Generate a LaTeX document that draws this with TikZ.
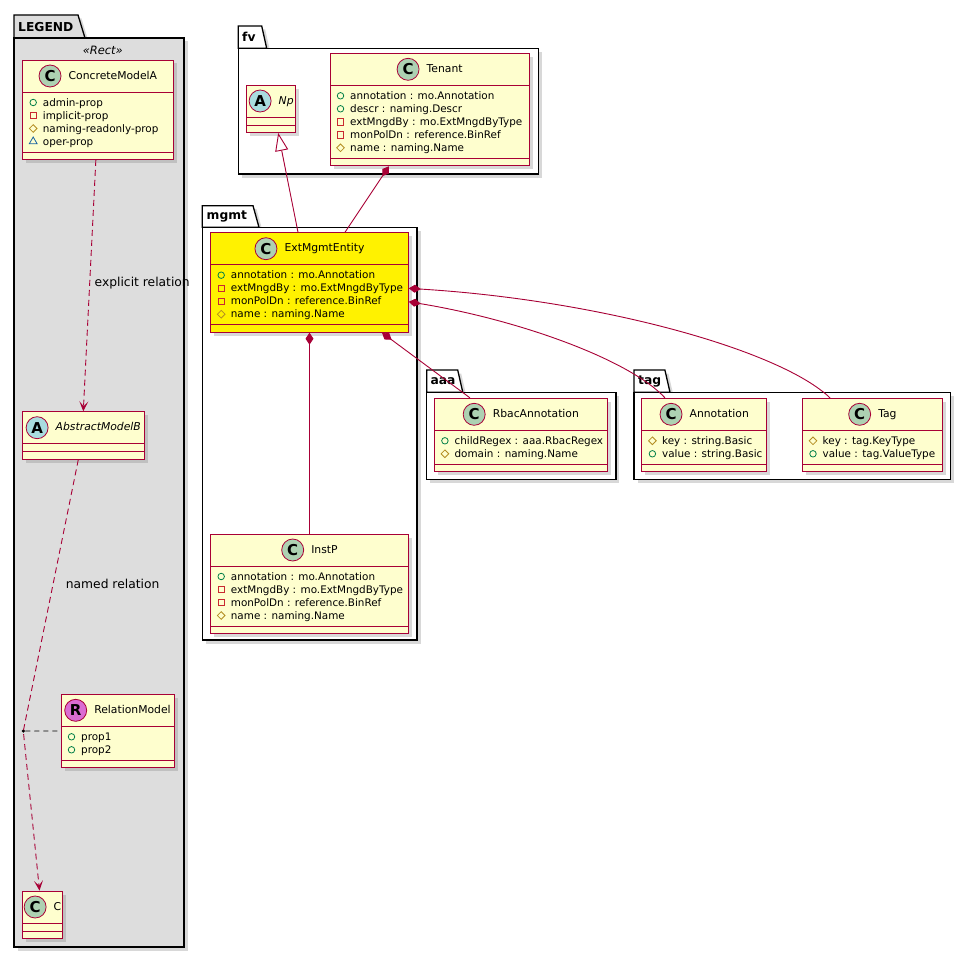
\documentclass[tikz,border=0pt]{standalone}
\usepackage{fontspec}
\setmainfont{DejaVu Sans}
\usetikzlibrary{positioning,fit,shapes.geometric,arrows.meta,shadows}

\definecolor{umlred}{HTML}{A80036}
\definecolor{classbg}{HTML}{FEFECE}
\definecolor{cgreen}{HTML}{ADD1B2}
\definecolor{ablue}{HTML}{A9DCDF}
\definecolor{rpink}{HTML}{DA6CD2}
\definecolor{legendbg}{HTML}{DDDDDD}
\definecolor{vpub}{HTML}{038048}
\definecolor{vprv}{HTML}{C82930}
\definecolor{vprot}{HTML}{B38D22}
\definecolor{vpkg}{HTML}{1963A0}

% #1 id, #2 icon style, #3 letter, #4 left, #5 top, #6 right, #7 title, #8 rows, #9 fields
\newcommand{\umlclass}[9]{%
  \pgfmathsetmacro\hdry{#5+32}
  \pgfmathsetmacro\sepy{#5+40+13*#8}
  \pgfmathsetmacro\boty{#5+47.5+13*#8}
  \node[classbody, fit={(#4,#5) (#6,\boty)}] (#1) {};
  \draw[classsep] (#4,\hdry) -- (#6,\hdry) (#4,\sepy) -- (#6,\sepy);
  \node[classname] (#1-name) at ({(#4+#6)/2+15},#5+16) {#7};
  \node[#2, left=7pt of #1-name] (#1-icon) {#3};
  \ifnum#8>0
  \foreach \vis/\txt [count=\k] in {#9} {
    \node[\vis] (#1-v\k) at (#4+10.5,{#5+42.5+13*(\k-1)}) {};
    \node[field] (#1-f\k) at (#4+20,{#5+42.5+13*(\k-1)}) {\txt};
  }
  \fi
}

\begin{document}
\begin{tikzpicture}[x=1pt, y=-1pt,
    classbody/.style={draw=umlred, line width=0.9pt, fill=classbg, inner sep=0pt,
      drop shadow={shadow xshift=3.5pt, shadow yshift=-3.5pt, opacity=0.3}},
    classsep/.style={draw=umlred, line width=0.9pt},
    classname/.style={inner sep=0pt, font=\fontsize{10.8}{13}\selectfont, text height=8.4pt, text depth=2.2pt},
    field/.style={anchor=west, inner sep=0pt, font=\fontsize{10.4}{12}\selectfont, text height=9.2pt, text depth=2pt},
    cicon/.style={circle, draw=umlred, line width=0.8pt, fill=cgreen, minimum size=22pt, inner sep=0pt,
      font=\bfseries\fontsize{15}{15}\selectfont},
    aicon/.style={cicon, fill=ablue},
    ricon/.style={cicon, fill=rpink},
    vispub/.style={circle, draw=vpub, line width=0.8pt, minimum size=6.5pt, inner sep=0pt},
    visprv/.style={rectangle, draw=vprv, line width=0.8pt, minimum size=6.5pt, inner sep=0pt},
    visprot/.style={diamond, draw=vprot, line width=0.8pt, minimum width=8pt, minimum height=8pt, inner sep=0pt},
    vispkg/.style={regular polygon, regular polygon sides=3, draw=vpkg, line width=0.8pt, minimum size=9pt, inner sep=0pt},
    pkgbox/.style={draw=black, line width=1.3pt, fill=white,
      drop shadow={shadow xshift=3.5pt, shadow yshift=-3.5pt, opacity=0.3}},
    pkglabel/.style={anchor=west, inner sep=0pt, font=\bfseries\fontsize{12.3}{14}\selectfont},
    rellabel/.style={anchor=west, inner sep=0pt, font=\fontsize{12.3}{14}\selectfont},
    rel/.style={draw=umlred, line width=0.9pt},
    comp/.style={{Diamond[length=12pt,width=8pt]}-},
    gen/.style={-{Triangle[open,length=18pt,width=13pt,fill=white]}},
    dashrel/.style={draw=umlred, line width=0.9pt, dash pattern=on 6pt off 4pt},
    openarr/.style={-{Stealth[length=10pt,width=9pt,inset=5pt]}},
  ]
  \path[use as bounding box, fill=white] (0,0) rectangle (971,958);

  % packages
  \path[pkgbox, fill=legendbg] (14,38) -- (14,15) -- (78,15) -- (85,38) -- cycle;
  \path[pkgbox, fill=legendbg] (14,38) rectangle (184,947);
  \node[pkglabel] (legendlbl) at (18,27) {LEGEND};
  \node[inner sep=0pt, font=\itshape\fontsize{11.5}{13}\selectfont] (stereo) at (102.8,50.7) {«Rect»};

  \path[pkgbox] (238.3,48.3) -- (238.3,26) -- (261.7,26) -- (266.7,48.3) -- cycle;
  \path[pkgbox] (238.3,48.3) rectangle (538.3,174);
  \node[pkglabel] (fvlbl) at (242,37.3) {fv};

  \path[pkgbox] (202.3,227.3) -- (202.3,205.7) -- (253,205.7) -- (259,227.3) -- cycle;
  \path[pkgbox] (202.3,227.3) rectangle (417,640);
  \node[pkglabel] (mgmtlbl) at (206.5,216.5) {mgmt};

  \path[pkgbox] (426.8,392.3) -- (426.8,370) -- (457.7,370) -- (462.8,392.3) -- cycle;
  \path[pkgbox] (426.8,392.3) rectangle (615.9,479.3);
  \node[pkglabel] (aaalbl) at (430.4,381.3) {aaa};

  \path[pkgbox] (634,392.3) -- (634,370) -- (664.9,370) -- (670,392.3) -- cycle;
  \path[pkgbox] (634,392.3) rectangle (950.7,479.3);
  \node[pkglabel] (taglbl) at (638,381.3) {tag};

  % legend classes
  \umlclass{concretea}{cicon}{C}{22.7}{60}{173}{ConcreteModelA}{4}{vispub/admin-prop,visprv/implicit-prop,visprot/naming-readonly-prop,vispkg/oper-prop}
  \umlclass{absmodel}{aicon}{A}{22.3}{411.7}{144.3}{\itshape AbstractModelB}{0}{}
  \umlclass{relmodel}{ricon}{R}{61}{694.3}{174}{RelationModel}{2}{vispub/prop1,vispub/prop2}
  \umlclass{cmodel}{cicon}{C}{22.7}{891}{62.3}{C}{0}{}

  % model classes
  \umlclass{np}{aicon}{A}{246.7}{85}{295.7}{\itshape Np}{0}{}
  \umlclass{tenant}{cicon}{C}{330}{53.3}{529.3}{Tenant}{5}{vispub/annotation : mo.Annotation,vispub/descr : naming.Descr,visprv/extMngdBy : mo.ExtMngdByType,visprv/monPolDn : reference.BinRef,visprot/name : naming.Name}
  \begin{scope}[classbody/.append style={fill=yellow}]
    \umlclass{extmgmt}{cicon}{C}{210.7}{232.7}{408.3}{ExtMgmtEntity}{4}{vispub/annotation : mo.Annotation,visprv/extMngdBy : mo.ExtMngdByType,visprv/monPolDn : reference.BinRef,visprot/name : naming.Name}
  \end{scope}
  \umlclass{instp}{cicon}{C}{210.7}{534}{408.3}{InstP}{4}{vispub/annotation : mo.Annotation,visprv/extMngdBy : mo.ExtMngdByType,visprv/monPolDn : reference.BinRef,visprot/name : naming.Name}
  \umlclass{rbac}{cicon}{C}{434.4}{398.3}{607.3}{RbacAnnotation}{2}{vispub/childRegex : aaa.RbacRegex,visprot/domain : naming.Name}
  \umlclass{annot}{cicon}{C}{641.9}{398.3}{766.6}{Annotation}{2}{visprot/key : string.Basic,vispub/value : string.Basic}
  \umlclass{tagcls}{cicon}{C}{802.5}{398.3}{942.3}{Tag}{2}{visprot/key : tag.KeyType,vispub/value : tag.ValueType}

  % legend relations
  \node[circle, fill=black, minimum size=3.5pt, inner sep=0pt] (reldot) at (23.3,731) {};
  \draw[dashrel, openarr] ([xshift=-2pt]concretea.south) -- (absmodel.north);
  \draw[dashrel, openarr] ([xshift=-5pt]absmodel.south) -- (reldot.center) -- ([xshift=-3pt]cmodel.north);
  \draw[line width=0.8pt, dash pattern=on 5pt off 4pt] (reldot) -- (relmodel.west);
  \node[rellabel] (explicitlbl) at (94.5,282.7) {explicit relation};
  \node[rellabel] (namedlbl) at (65.7,583.7) {named relation};

  % model relations
  \draw[rel, gen] ([xshift=-11.5pt]extmgmt.north) -- ([xshift=7pt]np.south);
  \draw[rel, comp] ([xshift=-40.7pt]tenant.south) -- ([xshift=35.5pt]extmgmt.north);
  \draw[rel, comp] (extmgmt.south) -- (instp.north);
  \draw[rel, comp] ([xshift=72.5pt]extmgmt.south) -- ([xshift=-50.9pt]rbac.north);
  \draw[rel, comp] ([yshift=-19.3pt]extmgmt.east) .. controls (520,320) and (630,360) .. ([xshift=-39.3pt]annot.north);
  \draw[rel, comp] ([yshift=-5.9pt]extmgmt.east) .. controls (600,300) and (780,350) .. ([xshift=-42.4pt]tagcls.north);
\end{tikzpicture}
\end{document}
